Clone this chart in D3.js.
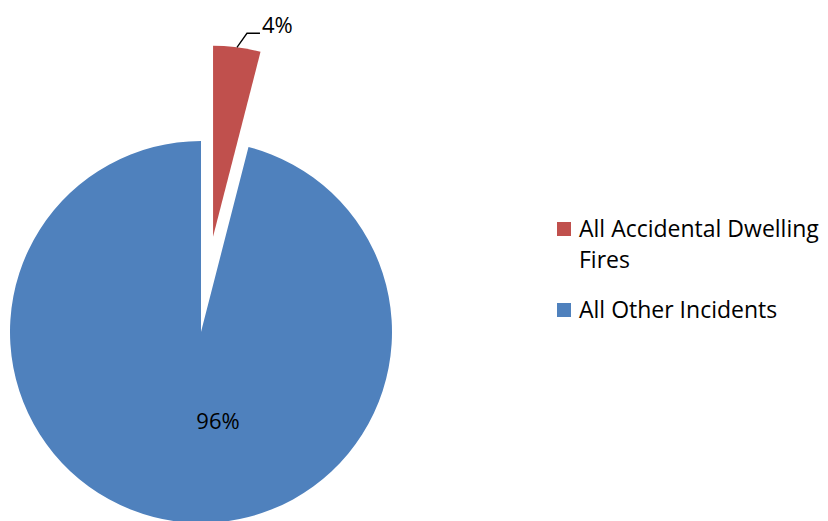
<!DOCTYPE html>
<html><head><meta charset="utf-8">
<script src="https://cdn.jsdelivr.net/npm/d3@7"></script>
<style>body{margin:0;background:#fff}svg{display:block}text{font-family:"Open Sans",sans-serif;fill:#000}</style>
</head><body>
<svg id="c" width="828" height="521"></svg>
<script>
const categories = ["All Accidental Dwelling Fires", "All Other Incidents"];
const values = [4, 96];
const labels = ["4%", "96%"];
const colors = ["#C0504D", "#4F81BD"];

const svg = d3.select("#c");
const cx = 201, cy = 332, r = 191, explode = 96;
const pie = d3.pie().sort(null).value(d => d)(values);
const arc = d3.arc().innerRadius(0).outerRadius(r);
const g = svg.append("g").attr("transform", `translate(${cx},${cy})`);

pie.forEach((p, i) => {
  const mid = (p.startAngle + p.endAngle) / 2;
  const off = i === 0 ? explode : 0;
  const dx = Math.sin(mid) * off, dy = -Math.cos(mid) * off;
  g.append("path").attr("d", arc(p)).attr("fill", colors[i])
    .attr("transform", `translate(${dx},${dy})`);
});

// label for 96%
g.append("text").attr("x", 17).attr("y", 97).attr("text-anchor", "middle")
  .style("font-size", "22px").text(labels[1]);

// label for 4% with leader line
const p0 = pie[0];
const m0 = (p0.startAngle + p0.endAngle) / 2;
const ex = Math.sin(m0) * explode, ey = -Math.cos(m0) * explode;
const sx = ex + Math.sin(m0) * r, sy = ey - Math.cos(m0) * r;
g.append("path").attr("d", `M${sx},${sy}L${sx+10},${sy-14}L${sx+23},${sy-14}`)
  .attr("fill", "none").attr("stroke", "#000").attr("stroke-width", 1.3);
g.append("text").attr("x", sx + 25).attr("y", sy - 14)
  .style("font-size", "22px").text(labels[0]);

// legend
const leg = svg.append("g");
const legRows = [{y: 222, lines: ["All Accidental Dwelling", "Fires"]}, {y: 303, lines: ["All Other Incidents"]}];
legRows.forEach((row, i) => {
  leg.append("rect").attr("x", 557).attr("y", row.y).attr("width", 14).attr("height", 14).attr("fill", colors[i]);
  row.lines.forEach((t, j) => {
    leg.append("text").attr("x", 579).attr("y", row.y + 15 + j * 31)
      .style("font-size", "23px").text(t);
  });
});
</script>
</body></html>
